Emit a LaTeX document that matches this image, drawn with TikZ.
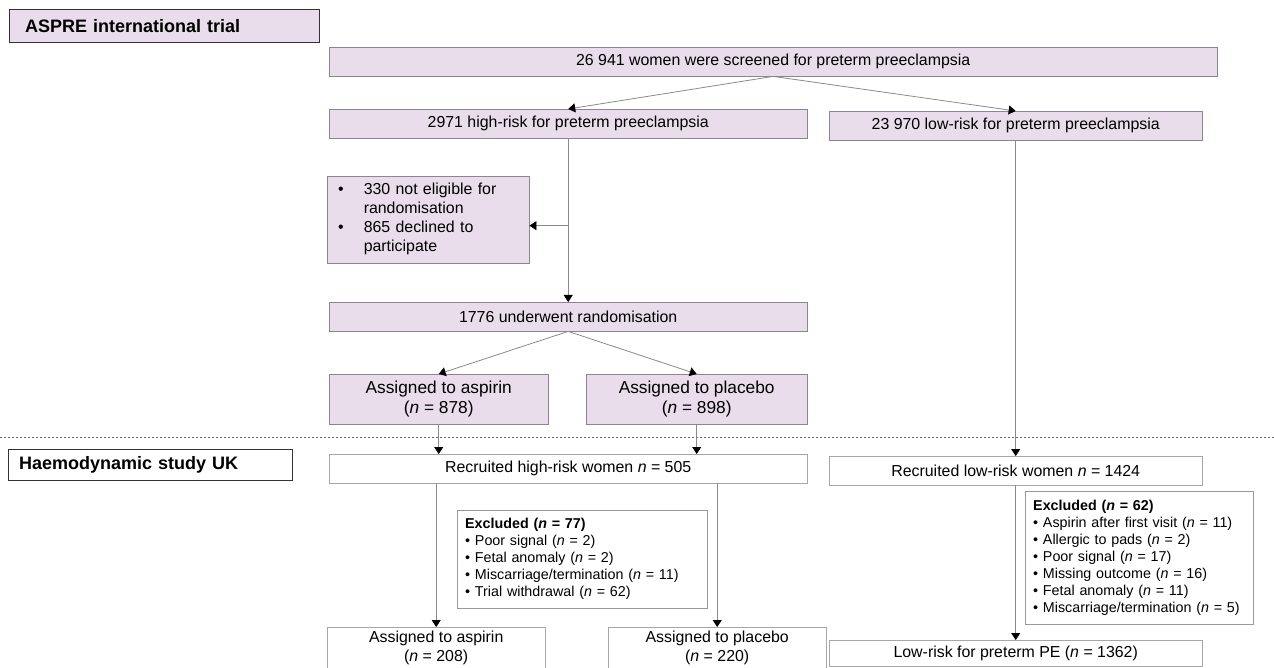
\documentclass[tikz,border=0pt]{standalone}
\usepackage{fontspec}
\setmainfont{Liberation Sans}
\usepackage{tikz}
\usetikzlibrary{arrows.meta,positioning,calc}
\definecolor{boxpurple}{HTML}{E9DDEB}
\definecolor{edgegray}{HTML}{8C8490}
\definecolor{linegray}{HTML}{8A8A8A}

\begin{document}
\begin{tikzpicture}[x=1pt, y=-1pt,
  trial/.style={draw=edgegray, fill=boxpurple, anchor=north west, inner sep=0pt, align=center, font=\fontsize{15.9}{19}\selectfont},
  arm/.style={trial, font=\fontsize{17.3}{20.5}\selectfont},
  study/.style={draw=black!35, fill=white, anchor=north west, inner sep=0pt, align=center, font=\fontsize{15.9}{19}\selectfont},
  excl/.style={draw=black!40, fill=white, anchor=north west, inner xsep=8pt, inner ysep=6pt, align=left, font=\fontsize{14.3}{17}\selectfont},
  tag/.style={draw=black!80, anchor=north west, inner ysep=0pt, align=left, font=\bfseries\fontsize{18}{21}\selectfont},
  arr/.style={draw=linegray, line width=0.8pt, -{Triangle[length=7pt, width=9pt, color=black]}},
  divider/.style={draw=black!60, line width=0.7pt, dash pattern=on 2pt off 2pt}
]
\useasboundingbox (0,0) rectangle (1274,668);

% ASPRE part
\node[tag, fill=boxpurple, inner xsep=16pt, text width=278pt, minimum height=33pt] (aspre) at (9,9) {ASPRE international trial};
\node[trial, minimum width=888pt, minimum height=29pt] (scr) at (329,47) {26 941 women were screened for preterm preeclampsia};
\node[trial, minimum width=478pt, minimum height=29pt] (hr) at (329,109) {2971 high-risk for preterm preeclampsia};
\node[trial, minimum width=373pt, minimum height=29pt] (lr) at (829,111) {23 970 low-risk for preterm preeclampsia};
\node[trial, align=left, inner xsep=11pt, text width=180pt, minimum height=87pt] (nelig) at (327,176) {%
  \begin{tabular}{@{}l@{\hspace{20pt}}l@{}}
  \textbullet & 330 not eligible for\\
              & randomisation\\
  \textbullet & 865 declined to\\
              & participate
  \end{tabular}};
\node[trial, minimum width=478pt, minimum height=29pt] (rand) at (329,302) {1776 underwent randomisation};
\node[arm, minimum width=219pt, minimum height=50pt] (asp) at (329,374) {Assigned to aspirin\\(\textit{n} = 878)};
\node[arm, minimum width=221pt, minimum height=50pt] (plc) at (586,374) {Assigned to placebo\\(\textit{n} = 898)};

% study part
\node[tag, fill=white, inner xsep=11pt, text width=262pt, minimum height=31pt] (ukstudy) at (8,449) {Haemodynamic study UK};
\node[study, minimum width=478pt, minimum height=29pt] (rhi) at (329,454) {Recruited high-risk women \textit{n} = 505};
\node[study, minimum width=373pt, minimum height=29pt] (rlo) at (829,456) {Recruited low-risk women \textit{n} = 1424};
\node[excl, text width=234pt, minimum height=98pt] (exhi) at (457,510) {%
  \textbf{Excluded (\textit{n} = 77)}\\
  \textbullet{} Poor signal (\textit{n} = 2)\\
  \textbullet{} Fetal anomaly (\textit{n} = 2)\\
  \textbullet{} Miscarriage/termination (\textit{n} = 11)\\
  \textbullet{} Trial withdrawal (\textit{n} = 62)};
\node[excl, text width=212pt, minimum height=133pt] (exlo) at (1025,491) {%
  \textbf{Excluded (\textit{n} = 62)}\\
  \textbullet{} Aspirin after first visit (\textit{n} = 11)\\
  \textbullet{} Allergic to pads (\textit{n} = 2)\\
  \textbullet{} Poor signal (\textit{n} = 17)\\
  \textbullet{} Missing outcome (\textit{n} = 16)\\
  \textbullet{} Fetal anomaly (\textit{n} = 11)\\
  \textbullet{} Miscarriage/termination (\textit{n} = 5)};
\node[study, minimum width=218pt, minimum height=42pt] (fasp) at (327,627) {Assigned to aspirin\\(\textit{n} = 208)};
\node[study, minimum width=218pt, minimum height=42pt] (fplc) at (608,627) {Assigned to placebo\\(\textit{n} = 220)};
\node[study, minimum width=373pt, minimum height=26pt] (lowpe) at (829,640) {Low-risk for preterm PE (\textit{n} = 1362)};

\coordinate (nelin) at ($(nelig.east)+(0,6)$);
\draw[divider] (0,437) -- (1274,437);

\draw[arr] (scr.south) -- (hr.north);
\draw[arr] (scr.south) -- (lr.north);
\draw[arr] (hr.south) -- (rand.north);
\draw[arr] (hr.south |- nelin) -- (nelin);
\draw[arr] (rand.south) -- (asp.north);
\draw[arr] (rand.south) -- (plc.north);
\draw[arr] (asp.south) -- (asp.south |- rhi.north);
\draw[arr] (plc.south) -- (plc.south |- rhi.north);
\draw[arr] (lr.south) -- (rlo.north);
\draw[arr] (rhi.south -| fasp.north) -- (fasp.north);
\draw[arr] (rhi.south -| fplc.north) -- (fplc.north);
\draw[arr] (rlo.south) -- (lowpe.north);
\end{tikzpicture}
\end{document}
